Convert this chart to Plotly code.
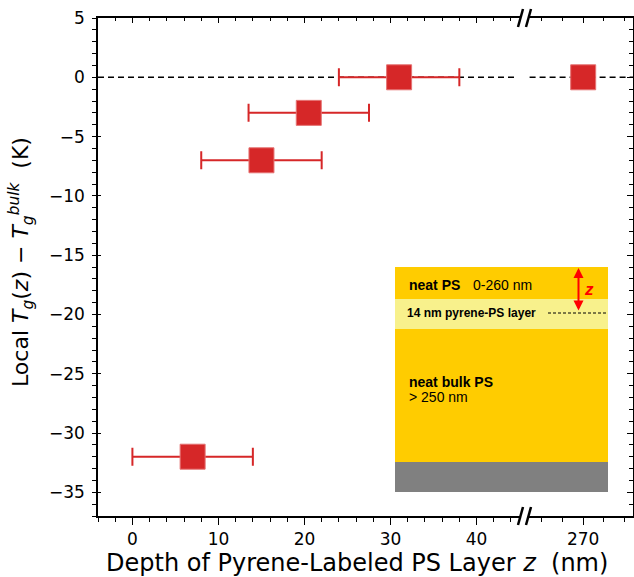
import plotly.graph_objects as go

# ---- data ----
depth_main = [7, 15, 20.5, 31]          # nm
dTg_main = [-32, -7, -3, 0]             # K
depth_err = [7, 7, 7, 7]                # nm
depth_far = [270]
dTg_far = [0]

x_ticks_main = [0, 10, 20, 30, 40]
x_ticks_far = [270]
y_ticks = [5, 0, -5, -10, -15, -20, -25, -30, -35]

RED = "#D62728"
FONT = "DejaVu Sans"

# pixel geometry of plotting area
W, H = 634, 577
L, R, T, B = 98, 633, 18, 516
PW, PH = R - L, B - T
def px(x):
    return (x - L) / PW
def py(y):
    return (B - y) / PH

brk = px(523)

fig = go.Figure()
fig.add_trace(go.Scatter(
    x=depth_main, y=dTg_main, mode="markers", xaxis="x", yaxis="y",
    marker=dict(symbol="square", size=25, color=RED, line=dict(width=1, color="#E57373")),
    error_x=dict(type="data", array=depth_err, color=RED, thickness=2, width=9),
    showlegend=False))
fig.add_trace(go.Scatter(
    x=depth_far, y=dTg_far, mode="markers", xaxis="x2", yaxis="y",
    marker=dict(symbol="square", size=25, color=RED, line=dict(width=1, color="#E57373")),
    showlegend=False))

axline = dict(showline=True, linecolor="black", linewidth=1.5, showgrid=False, zeroline=False)
tickfont = dict(family=FONT, size=17, color="black")

fig.update_layout(
    width=W, height=H,
    margin=dict(l=L, r=W - R, t=T, b=H - B),
    paper_bgcolor="white", plot_bgcolor="white",
    xaxis=dict(domain=[0, brk], range=[-4, 45.4], tickvals=x_ticks_main, ticks="outside",
               ticklen=7, tickwidth=1.2, tickcolor="black", tickfont=tickfont,
               minor=dict(dtick=2, tick0=0, ticks="outside", ticklen=4, tickcolor="black", tickwidth=1),
               anchor="y", **axline),
    xaxis2=dict(domain=[brk, 1], range=[264.2, 274.8], tickvals=x_ticks_far, ticks="outside",
                ticklen=7, tickwidth=1.2, tickcolor="black", tickfont=tickfont,
                minor=dict(dtick=2, tick0=0, ticks="outside", ticklen=4, tickcolor="black", tickwidth=1),
                anchor="y", **axline),
    xaxis3=dict(overlaying="x", domain=[0, brk], range=[-4, 45.4], side="top", anchor="y",
                tickvals=x_ticks_main, ticks="inside", ticklen=5, tickcolor="black", showticklabels=False,
                minor=dict(dtick=2, tick0=0, ticks="inside", ticklen=3, tickcolor="black"),
                **axline),
    xaxis4=dict(overlaying="x2", domain=[brk, 1], range=[264.2, 274.8], side="top", anchor="y",
                tickvals=x_ticks_far, ticks="inside", ticklen=5, tickcolor="black", showticklabels=False,
                minor=dict(dtick=2, tick0=0, ticks="inside", ticklen=3, tickcolor="black"),
                **axline),
    yaxis=dict(range=[-37, 5], tickvals=y_ticks, ticks="outside", ticklen=4, tickwidth=1.2,
               tickcolor="black", tickfont=tickfont, ticklabelstandoff=4,
               minor=dict(dtick=1, tick0=0, ticks="outside", ticklen=4, tickcolor="black"),
               anchor="x", **axline),
    yaxis2=dict(overlaying="y", range=[-37, 5], side="left", anchor="x", tickvals=y_ticks,
                ticks="inside", ticklen=3, tickwidth=1.2, tickcolor="black", showticklabels=False,
                showline=False, showgrid=False, zeroline=False),
    yaxis3=dict(overlaying="y", range=[-37, 5], side="right", anchor="x2", tickvals=y_ticks,
                ticks="inside", ticklen=6, tickcolor="black", showticklabels=False,
                minor=dict(dtick=1, tick0=0, ticks="inside", ticklen=4, tickcolor="black"),
                **axline),
)
# dummy traces to activate overlay axes
for xa, ya in [("x3", "y2"), ("x4", "y3")]:
    fig.add_trace(go.Scatter(x=[None], y=[None], xaxis=xa, yaxis=ya, showlegend=False, hoverinfo="skip"))

shapes = []
# zero reference dashed line
shapes.append(dict(type="line", xref="x domain", yref="y", x0=0, x1=0.985, y0=0, y1=0,
                   line=dict(color="black", width=1.5, dash="6px,4px"), layer="below"))
shapes.append(dict(type="line", xref="x2 domain", yref="y", x0=0.06, x1=1, y0=0, y1=0,
                   line=dict(color="black", width=1.5, dash="6px,4px"), layer="below"))

# inset schematic
def rect(x0, y0, x1, y1, color):
    return dict(type="rect", xref="paper", yref="paper", x0=px(x0), x1=px(x1), y0=py(y1), y1=py(y0),
                fillcolor=color, line=dict(width=0), layer="above")
shapes += [rect(395, 267, 608, 299, "#FFCC00"),
           rect(395, 299, 608, 329, "#F8F18C"),
           rect(395, 329, 608, 462, "#FFCC00"),
           rect(395, 462, 608, 492, "#808080")]
shapes.append(dict(type="line", xref="paper", yref="paper", x0=px(548), x1=px(608), y0=py(313), y1=py(313),
                   line=dict(color="black", width=1, dash="3px,2px")))

# axis break marks
for ysp in (T, B):
    shapes.append(dict(type="rect", xref="paper", yref="paper", x0=px(520), x1=px(528),
                       y0=py(ysp + 3), y1=py(ysp - 3), fillcolor="white", line=dict(width=0)))
    for xb in (518, 526):
        shapes.append(dict(type="line", xref="paper", yref="paper", x0=px(xb), x1=px(xb + 5),
                           y0=py(ysp + 9), y1=py(ysp - 9), line=dict(color="black", width=2.5)))
fig.update_layout(shapes=shapes)

ann = []
def txt(x, y, s, size, bold=False, color="black", xanchor="left", italic=False):
    if bold:
        s = "<b>" + s + "</b>"
    if italic:
        s = "<i>" + s + "</i>"
    ann.append(dict(xref="paper", yref="paper", x=px(x), y=py(y), text=s, showarrow=False,
                    xanchor=xanchor, yanchor="middle",
                    font=dict(family="Liberation Sans", size=size, color=color)))
txt(407, 285, "neat PS", 14, bold=True)
txt(471, 285, "0-260 nm", 14)
txt(405, 313, "14 nm pyrene-PS layer", 12, bold=True)
txt(407, 382, "neat bulk PS", 14, bold=True)
txt(407, 397, "&gt; 250 nm", 14)
txt(589, 289, "z", 17, bold=True, italic=True, color="red", xanchor="center")

# red double arrow
ann.append(dict(xref="paper", yref="paper", x=px(578.5), y=py(268), ax=0, ay=312 - 268,
                axref="pixel", ayref="pixel", text="", showarrow=True, arrowside="end+start",
                arrowhead=2, arrowsize=1, arrowwidth=2, arrowcolor="red"))

# axis titles
ann.append(dict(xref="paper", yref="paper", x=px(357), y=py(563), showarrow=False,
                text="Depth of Pyrene-Labeled PS Layer <i>z</i>  (nm)", xanchor="center", yanchor="middle",
                font=dict(family=FONT, size=24, color="black")))
ann.append(dict(xref="paper", yref="paper", x=px(21), y=py(262), showarrow=False, textangle=-90,
                text="Local <i>T</i><sub><i>g</i></sub>(<i>z</i>) − <i>T</i><sub><i>g</i></sub><sup><i>bulk</i></sup>  (K)",
                xanchor="center", yanchor="middle",
                font=dict(family=FONT, size=22, color="black")))
fig.update_layout(annotations=ann)

fig.write_html("out.html")
